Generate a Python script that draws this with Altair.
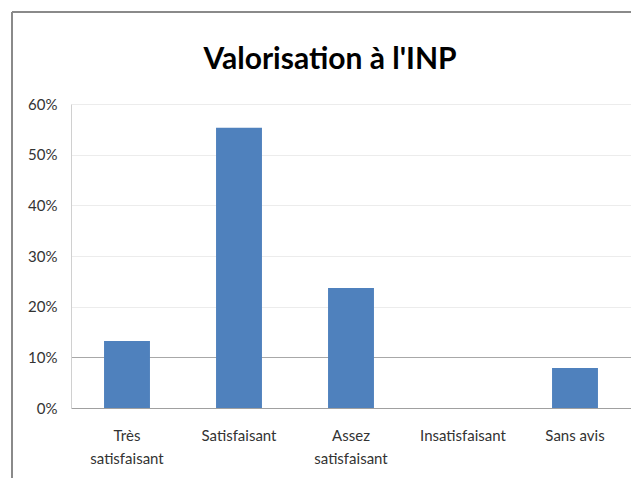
import altair as alt
import pandas as pd

categories = ["Très\nsatisfaisant", "Satisfaisant", "Assez\nsatisfaisant", "Insatisfaisant", "Sans avis"]
values = [0.132, 0.553, 0.237, 0.0, 0.079]
title_text = "Valorisation à l'INP"

df = pd.DataFrame({"cat": categories, "val": values})
FONT = "Lato"

bars = alt.Chart(df).mark_bar(color="#4f81bd").encode(
    x=alt.X("cat:N", sort=categories, title=None,
            scale=alt.Scale(paddingInner=0.59, paddingOuter=0.295),
            axis=alt.Axis(labelAngle=0, labelExpr="split(datum.label, '\\n')",
                          labelPadding=20, ticks=False, domainColor="#a0a0a0",
                          labelFontSize=15, labelLineHeight=23, labelFont=FONT,
                          labelColor="#333333")),
    y=alt.Y("val:Q", title=None,
            scale=alt.Scale(domain=[0, 0.6]),
            axis=alt.Axis(format=".0%", values=[0, 0.1, 0.2, 0.3, 0.4, 0.5, 0.6],
                          ticks=False, domainColor="#d0d0d0", labelPadding=14,
                          labelFontSize=15, labelFont=FONT, labelColor="#333333",
                          gridColor=alt.condition("datum.value == 0.1", alt.value("#a8a8a8"), alt.value("#ececec")))),
)

frame_left = alt.Chart(df).mark_rule(color="#8a8a8a", strokeWidth=2, clip=False).encode(
    x=alt.value(-59), y=alt.value(-92), y2=alt.value(430)
)
frame_top = alt.Chart(df).mark_rule(color="#8a8a8a", strokeWidth=2, clip=False).encode(
    x=alt.value(-59), x2=alt.value(600), y=alt.value(-92)
)
title = alt.Chart(pd.DataFrame({"t": [title_text]})).mark_text(
    font=FONT, fontSize=30, fontWeight="bold", color="#000000",
    align="center", baseline="alphabetic", clip=False
).encode(text="t:N", x=alt.value(259), y=alt.value(-35))

chart = alt.layer(bars, frame_left, frame_top, title).properties(
    width=560, height=304,
    autosize=alt.AutoSizeParams(type="none"),
    padding={"left": 63, "top": 96, "right": 0, "bottom": 70},
).configure_view(stroke=None).configure_axis(gridWidth=1)

chart.save("out.html", embed_options={"renderer": "svg", "actions": False})
